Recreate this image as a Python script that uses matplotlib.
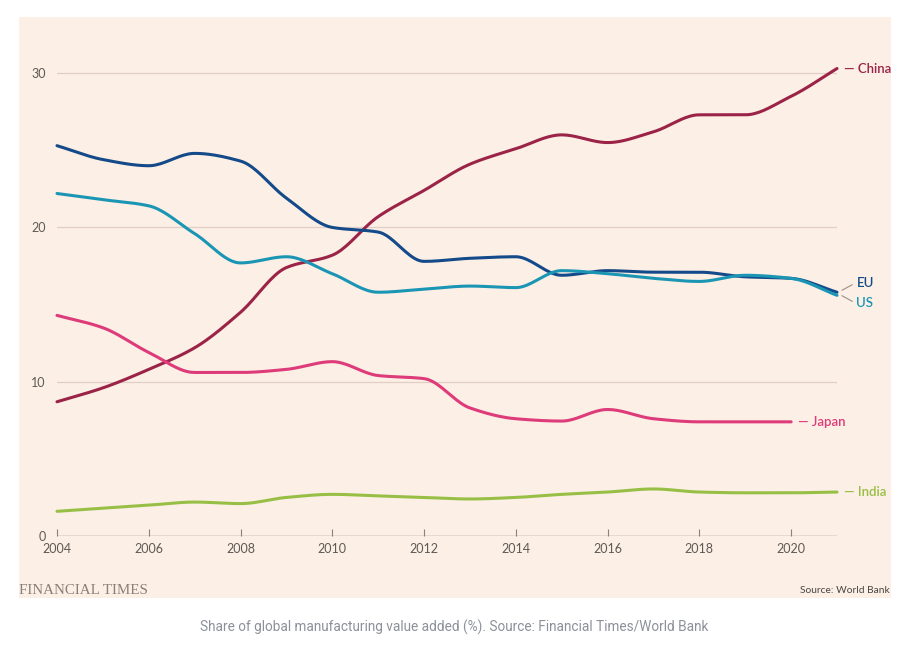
import numpy as np
import matplotlib.pyplot as plt
from matplotlib.patches import Rectangle

# share of global manufacturing value added (%)
years = list(range(2004, 2022))
china = [8.7, 9.6, 10.8, 12.2, 14.5, 17.4, 18.2, 20.7, 22.4, 24.1, 25.1, 26.0, 25.5, 26.2, 27.3, 27.3, 28.5, 30.3]
eu = [25.3, 24.4, 24.0, 24.8, 24.3, 21.9, 20.0, 19.7, 17.8, 18.0, 18.1, 16.9, 17.2, 17.1, 17.1, 16.8, 16.7, 15.8]
us = [22.2, 21.8, 21.4, 19.6, 17.7, 18.1, 17.0, 15.8, 16.0, 16.2, 16.1, 17.2, 17.0, 16.7, 16.5, 16.9, 16.7, 15.6]
japan = [14.3, 13.5, 11.9, 10.6, 10.6, 10.8, 11.3, 10.4, 10.2, 8.3, 7.6, 7.45, 8.2, 7.6, 7.4, 7.4, 7.4]
india = [1.6, 1.8, 2.0, 2.2, 2.1, 2.5, 2.7, 2.6, 2.5, 2.4, 2.5, 2.7, 2.85, 3.05, 2.85, 2.8, 2.8, 2.85]

series = [
    ("China", china, "#9b2347"),
    ("EU", eu, "#144a8a"),
    ("US", us, "#1a96b4"),
    ("Japan", japan, "#dd3b79"),
    ("India", india, "#98bf45"),
]

BG = "#fcefe5"


def smooth(x, y, n=20):
    # monotone cubic (like d3 curveMonotoneX) just for drawing
    x = np.asarray(x, float)
    y = np.asarray(y, float)
    h = np.diff(x)
    d = np.diff(y) / h
    m = np.zeros_like(y)
    m[0], m[-1] = d[0], d[-1]
    for i in range(1, len(y) - 1):
        if d[i - 1] * d[i] > 0:
            m[i] = 2 / (1 / d[i - 1] + 1 / d[i])
    xs, ys = [], []
    for i in range(len(x) - 1):
        t = np.linspace(0, 1, n, endpoint=False)
        h00 = 2 * t**3 - 3 * t**2 + 1
        h10 = t**3 - 2 * t**2 + t
        h01 = -2 * t**3 + 3 * t**2
        h11 = t**3 - t**2
        xs.append(x[i] + t * h[i])
        ys.append(h00 * y[i] + h10 * h[i] * m[i] + h01 * y[i + 1] + h11 * h[i] * m[i + 1])
    xs.append([x[-1]])
    ys.append([y[-1]])
    return np.concatenate(xs), np.concatenate(ys)


fig = plt.figure(figsize=(9.09, 6.52), dpi=100)
fig.patch.set_facecolor("white")
fig.add_artist(Rectangle((0.0209, 0.0828), 0.9593, 0.891, transform=fig.transFigure,
                         facecolor=BG, edgecolor="none", zorder=-10))

ax = fig.add_axes([0.0627, 0.1779, 0.8581, 0.7454])
ax.set_zorder(1)
ax.set_facecolor("none")
ax.set_xlim(2004, 2021)
ax.set_ylim(0, 31.5)

for yv in [10, 20, 30]:
    ax.axhline(yv, color="#e0cfc6", lw=0.9, zorder=1)
ax.axhline(0, color="#8c8079", lw=1.0, zorder=2)

for name, vals, col in series:
    sx, sy = smooth(years[:len(vals)], vals)
    ax.plot(sx, sy, color=col, lw=2.2, solid_capstyle="round", clip_on=False, zorder=3)

for s in ax.spines.values():
    s.set_visible(False)

ax.set_xticks(range(2004, 2021, 2))
ax.set_yticks([0, 10, 20, 30])
ax.tick_params(axis="x", direction="in", length=5, color="#8c8079", pad=5,
               labelsize=9, labelcolor="#5e5955")
ax.tick_params(axis="y", length=0, pad=8, labelsize=9, labelcolor="#5e5955")
for lbl in ax.get_xticklabels() + ax.get_yticklabels():
    lbl.set_family("Lato")

# direct labels at line ends
lab_kw = dict(fontsize=9.5, fontfamily="Lato", fontweight="semibold", va="center")
for name, vals, col in [("China", china, "#9b2347"), ("Japan", japan, "#dd3b79"), ("India", india, "#98bf45")]:
    xe = years[len(vals) - 1]
    ax.annotate("— " + name, (xe, vals[-1]), xytext=(5, 0), textcoords="offset points",
                color=col, annotation_clip=False, **lab_kw)

ax.annotate("EU", (2021, 15.75), xytext=(14, 7), textcoords="offset points", color="#144a8a",
            annotation_clip=False, **lab_kw)
ax.annotate("US", (2021, 15.75), xytext=(14, -7), textcoords="offset points", color="#1a96b4",
            annotation_clip=False, **lab_kw)
for dy in (6, -6):
    ax.annotate("", (2021, 15.75), xytext=(11, dy), textcoords="offset points",
                xycoords="data", annotation_clip=False,
                arrowprops=dict(arrowstyle="-", color="#9a8f88", lw=0.8,
                                shrinkA=0, shrinkB=4))

fig.text(0.0209, 0.094, "FINANCIAL TIMES", fontsize=10.8, family="Liberation Serif",
         color="#8a7f78", va="center", ha="left")
fig.text(0.979, 0.094, "Source: World Bank", fontsize=7.4, family="Lato",
         color="#4a4542", va="center", ha="right")
fig.text(0.5, 0.038, "Share of global manufacturing value added (%). Source: Financial Times/World Bank",
         fontsize=9.85, family="Roboto", color="#8c9199", ha="center", va="center")

fig.savefig("out.png", dpi=100)
